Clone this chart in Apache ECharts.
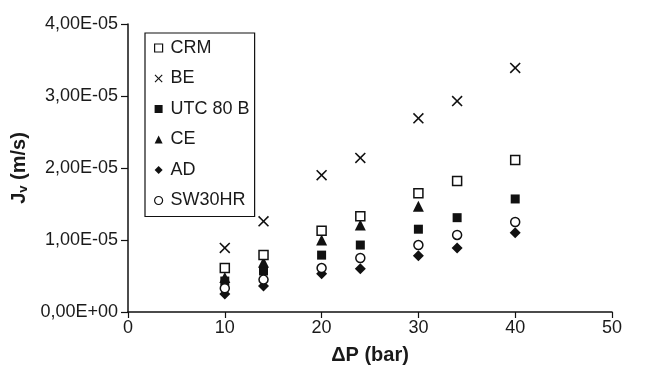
<!DOCTYPE html>
<html><head><meta charset="utf-8">
<script src="https://cdn.jsdelivr.net/npm/echarts@6/dist/echarts.min.js"></script>
<style>html,body{margin:0;padding:0;background:#fff}#c{width:652px;height:370px}</style>
</head><body><div id="c"></div>
<script>
var pressures = [10, 14, 20, 24, 30, 34, 40];
var seriesNames = ['CRM', 'BE', 'UTC 80 B', 'CE', 'AD', 'SW30HR'];
var crm = [6.1e-6, 7.9e-6, 1.13e-5, 1.33e-5, 1.65e-5, 1.82e-5, 2.11e-5];
var be = [8.9e-6, 1.26e-5, 1.90e-5, 2.14e-5, 2.69e-5, 2.93e-5, 3.39e-5];
var utc = [4.3e-6, 5.7e-6, 7.9e-6, 9.3e-6, 1.15e-5, 1.31e-5, 1.57e-5];
var ce = [4.8e-6, 6.9e-6, 1.00e-5, 1.21e-5, 1.47e-5];
var ad = [2.5e-6, 3.6e-6, 5.3e-6, 6.0e-6, 7.8e-6, 8.9e-6, 1.10e-5];
var sw = [3.3e-6, 4.5e-6, 6.1e-6, 7.5e-6, 9.3e-6, 1.07e-5, 1.25e-5];
var yTicks = [0, 1e-5, 2e-5, 3e-5, 4e-5];
var xTicks = [0, 10, 20, 30, 40, 50];

function pairs(vals){ return vals.map(function(v,i){ return [pressures[i], v]; }); }
function sci(v){
  if (Math.abs(v) < 1e-20) return '0,00E+00';
  var e = Math.floor(Math.log10(Math.abs(v)) + 1e-9);
  var m = v / Math.pow(10, e);
  var es = (e < 0 ? '-' : '+') + (Math.abs(e) < 10 ? '0' : '') + Math.abs(e);
  return m.toFixed(2).replace('.', ',') + 'E' + es;
}
var FONT = '"Liberation Sans", Arial, sans-serif';
var TXT = '#1a1a1a';
var crossPath = 'path://M0,1 L1,0 L5,4 L9,0 L10,1 L6,5 L10,9 L9,10 L5,6 L1,10 L0,9 L4,5 Z';

var defs = [
  {name: seriesNames[0], data: crm, symbol: 'rect', size: 9, empty: true},
  {name: seriesNames[1], data: be, symbol: crossPath, size: 11, empty: false},
  {name: seriesNames[2], data: utc, symbol: 'rect', size: 9, empty: false},
  {name: seriesNames[3], data: ce, symbol: 'triangle', size: 11, empty: false},
  {name: seriesNames[4], data: ad, symbol: 'diamond', size: 11, empty: false},
  {name: seriesNames[5], data: sw, symbol: 'circle', size: 9, empty: true}
];
var series = defs.map(function(d){
  return {
    type: 'scatter', name: d.name, data: pairs(d.data),
    symbol: d.symbol, symbolSize: d.size,
    itemStyle: d.empty ? {color: '#fff', borderColor: '#111', borderWidth: 1.5, opacity: 1}
                       : {color: '#111', opacity: 1},
    emphasis: {disabled: true}, z: 3
  };
});
var order = [4, 2, 3, 5, 0, 1];
series = order.map(function(i){ return series[i]; });

var chart = echarts.init(document.getElementById('c'), null, {renderer: 'canvas'});
chart.setOption({
  animation: false,
  backgroundColor: '#fff',
  grid: {left: 128, right: 40, top: 24, bottom: 55},
  legend: {
    data: seriesNames.map(function(n, i){
      var d = defs[i];
      return {name: n, icon: d.symbol,
        itemStyle: d.empty ? {color: '#fff', borderColor: '#111', borderWidth: 1.2} : {color: '#111'}};
    }),
    orient: 'vertical', left: 145, top: 33,
    itemWidth: 8, itemHeight: 8, itemGap: 10.5,
    padding: [5, 5, 6, 9],
    borderColor: '#111', borderWidth: 1.2,
    backgroundColor: '#fff',
    selectedMode: false,
    textStyle: {fontFamily: FONT, fontSize: 18, color: TXT, lineHeight: 20, padding: [0, 0, 0, 3]}
  },
  xAxis: {
    type: 'value', min: xTicks[0], max: xTicks[xTicks.length-1], interval: 10,
    splitLine: {show: false},
    axisLine: {lineStyle: {color: '#111', width: 1.5}, onZero: false},
    axisTick: {lineStyle: {color: '#111', width: 1.2}, length: 6, inside: false},
    axisLabel: {fontFamily: FONT, fontSize: 18, color: TXT, margin: 7},
    name: '\u0394P (bar)', nameLocation: 'middle', nameGap: 33,
    nameTextStyle: {fontFamily: FONT, fontSize: 20, fontWeight: 'bold', color: TXT}
  },
  yAxis: {
    type: 'value', min: yTicks[0], max: yTicks[yTicks.length-1], interval: 1e-5,
    splitLine: {show: false},
    axisLine: {show: true, lineStyle: {color: '#111', width: 1.5}},
    axisTick: {show: true, lineStyle: {color: '#111', width: 1.2}, length: 7},
    axisLabel: {fontFamily: FONT, fontSize: 18, color: TXT, margin: 10, formatter: sci},
    name: '{b|J}{s|v}{b| (m/s)}', nameLocation: 'middle', nameGap: 96,
    nameTextStyle: {
      rich: {
        b: {fontFamily: FONT, fontSize: 20, fontWeight: 'bold', color: TXT},
        s: {fontFamily: FONT, fontSize: 13, fontWeight: 'bold', color: TXT, verticalAlign: 'bottom', padding: [7, 0, 0, 0]}
      }
    }
  },
  series: series
});
</script>
</body></html>
